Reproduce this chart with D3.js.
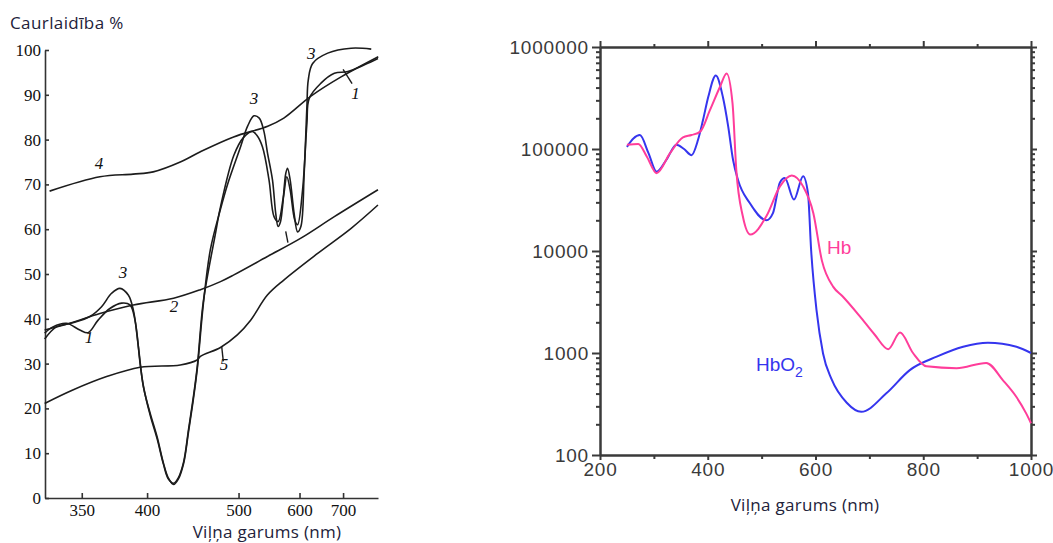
<!DOCTYPE html>
<html>
<head>
<meta charset="utf-8">
<script src="https://cdn.jsdelivr.net/npm/d3@7"></script>
<style>
  body { margin: 0; background: #fff; }
  svg { display: block; }
</style>
</head>
<body>
<svg id="chart" width="1053" height="543"></svg>
<script>
// ---- left panel: transmission (%) vs wavelength (nm), [nm, %]
const curve1 = [[326.8,36.8],[331.7,38.2],[340,39.0],[348.7,37.5],[354.3,36.9],[361.3,39.7],[369.9,42.3],[378.9,43.5],[385.6,43.1],[389.7,39.7],
  [394,30],[396.8,25],[402.7,18.5],[409,13.2],[414.9,7.5],[419.4,4.3],[424.6,3.3],[429.3,4.5],[434.7,8],[440,15.5],[445,22.5],[449.4,29.5],[456.2,44],
  [470.3,59],[476.5,65],[493.7,76.5],[507,80.5],[519.6,81.8],[526,81],[534.9,78.4],[545.4,71],[553.7,62.8],[560.6,61.7],[570,67.3],[576,71.7],
  [582.1,68.8],[590.9,62],[596.2,61],[606.1,68.8],[614.9,83.6],[619.7,89.2],[645.4,92.6],[677.4,94.8],[713,95.2],[762.5,96.7],[807.9,98.1]];
const curve2 = [[326.8,37.5],[342.1,39.0],[362.6,41.2],[388.3,43.1],[424.6,44.6],[452.8,46.5],[476.5,48.3],[493.7,49.8],[542.8,53.9],[602.7,58.0],[677.4,62.8],[807.9,68.8]];
const curve3 = [[326.8,35.5],[333.8,38.2],[344.1,39.1],[355.5,40.5],[363.8,42.7],[371.2,45.7],[377.6,46.8],[384.2,45.3],[388.3,42.0],[392.5,33.8],
  [396.8,24.8],[402.7,18.9],[409,13.6],[414.9,7.7],[419.4,4.5],[424.6,3.0],[429.3,4.2],[434.7,7.7],[440,15],[445,22],[449.4,29],[456.2,43.5],
  [464.3,55.5],[476.5,64.5],[485.4,70],[502.8,78.4],[512.7,83],[522,85.3],[530,84.8],[537,82],[543,77],[551.1,71],[556.6,63.5],[560.6,60.6],[564.4,61.5],
  [568.3,65],[574.2,72.5],[577.3,73.6],[582.1,71],[589.6,63.5],[596.2,59.4],[602.7,60.6],[609.3,72.5],[614.9,87.3],[617.7,93.3],[627,97],
  [661.2,99.3],[722.3,100.4],[784.6,100.2]];
const curve4 = [[329.7,68.5],[362.6,71.7],[388.1,72.3],[405.4,72.8],[431.3,75.0],[452.8,77.3],[493.3,80.6],[543.3,83.0],[570.6,84.8],[623.3,89.7],[694.7,94.0],[809,98.5]];
const curve5 = [[326.8,21.1],[344.1,24.1],[367.5,27.1],[394,29.2],[431.3,29.7],[449.1,30.8],[452.8,31.6],[476.5,33.6],[498.3,36.4],[517.1,39.7],[542.8,45.3],[571.1,48.7],[638,54.6],[722.3,60.2],[807.9,65.4]];
const leftXTicks = [350, 400, 500, 600, 700];
const leftYTicks = [0, 10, 20, 30, 40, 50, 60, 70, 80, 90, 100];
// curve number labels: [text, nm, %]
const curveLabels = [["4", 362, 73.5], ["3", 380, 49], ["1", 355, 34.5], ["2", 425, 41.5], ["5", 481, 28.5], ["3", 522, 88], ["3", 624, 98], ["1", 735, 89]];

// ---- right panel: absorption vs wavelength (nm), [nm, value]
const hb = [[250,110000],[271,112000],[287,84000],[305,58000],[330,91000],[354,130000],[370,137000],[386,148000],[404,240000],[423,410000],[435,550000],
  [446,280000],[453,62000],[465,22000],[479,14500],[509,22000],[534,43000],[556,55000],[577,43000],[596,23500],[612,8000],[633,4450],[651,3560],
  [682,2300],[710,1510],[735,1090],[757,1585],[781,1000],[806,740],[862,710],[917,800],[948,540],[973,370],[991,256],[1000,205]];
const hbo2 = [[250,105000],[262,127000],[274,137000],[290,91000],[305,60000],[323,78000],[342,110000],[356,100000],[370,87000],[382,123000],[391,190000],
  [401,325000],[415,525000],[428,325000],[438,166000],[447,78000],[456,50000],[478,29500],[509,20000],[521,23500],[534,47000],[543,52000],[560,32000],
  [577,54000],[586,37000],[592,10000],[602,2600],[614,990],[630,550],[658,325],[685,265],[732,405],[775,680],[825,920],[874,1150],[920,1260],[973,1150],[1000,1000]];
const rightXTicks = [200, 400, 600, 800, 1000];
const rightXMinor = [300, 500, 700, 900];
const rightYTicks = [100, 1000, 10000, 100000, 1000000];

const svg = d3.select("#chart");

// ============ left panel ============
const xL = d3.scaleLinear().domain([1000 / 327, 1000 / 808]).range([45, 378]); // 1/wavelength scale
const xWl = wl => xL(1000 / wl);
const yL = d3.scaleLinear().domain([0, 100]).range([498, 50]);

const left = svg.append("g");
left.append("g")
  .attr("transform", "translate(0,498)")
  .call(d3.axisBottom(xL).tickValues(leftXTicks.map(w => 1000 / w)).tickFormat(d => Math.round(1000 / d)).tickSize(-5).tickSizeOuter(0).tickPadding(6))
  .call(g => g.selectAll("text").attr("font-family", "Liberation Serif, serif").attr("font-size", 17).attr("fill", "#111"));
left.append("g")
  .attr("transform", "translate(45,0)")
  .call(d3.axisLeft(yL).tickValues(leftYTicks).tickSize(-4).tickSizeOuter(0).tickPadding(4))
  .call(g => g.selectAll("text").attr("font-family", "Liberation Serif, serif").attr("font-size", 17).attr("fill", "#111"));
left.selectAll(".domain, .tick line").attr("stroke", "#333").attr("stroke-width", 1.6);

const lineL = d3.line().x(d => xWl(d[0])).y(d => yL(d[1])).curve(d3.curveCatmullRom.alpha(0.5));
[curve1, curve2, curve3, curve4, curve5].forEach(c => {
  left.append("path").attr("d", lineL(c)).attr("fill", "none").attr("stroke", "#1c1c1c").attr("stroke-width", 1.6);
});

left.selectAll(".clabel").data(curveLabels).enter().append("text")
  .attr("x", d => xWl(d[1])).attr("y", d => yL(d[2]))
  .attr("text-anchor", "middle")
  .attr("font-family", "Liberation Serif, serif").attr("font-style", "italic").attr("font-size", 17).attr("fill", "#111")
  .text(d => d[0]);

// small leader strokes next to labels
const leaders = [[[700, 95.7], [725, 92.5]], [[478, 33.8], [480, 30.5]], [[578, 57], [574, 59.5]]];
leaders.forEach(l => {
  left.append("path").attr("d", d3.line().x(d => xWl(d[0])).y(d => yL(d[1]))(l))
    .attr("stroke", "#1c1c1c").attr("stroke-width", 1.4).attr("fill", "none");
});

left.append("text").attr("x", 10).attr("y", 29)
  .attr("font-family", "Open Sans, sans-serif").attr("font-size", 17).attr("letter-spacing", 0.4).attr("fill", "#22223a")
  .text("Caurlaidība %");
left.append("text").attr("x", 267).attr("y", 538).attr("text-anchor", "middle")
  .attr("font-family", "Open Sans, sans-serif").attr("font-size", 17).attr("letter-spacing", 0.3).attr("fill", "#22223a")
  .text("Viļņa garums (nm)");

// ============ right panel ============
const xR = d3.scaleLinear().domain([200, 1000]).range([600, 1031]);
const yR = d3.scaleLog().domain([100, 1e6]).range([455, 47]);
const minorY = [];
for (let e = 2; e < 6; e++) for (let m = 2; m <= 9; m++) minorY.push(m * Math.pow(10, e));

const right = svg.append("g");
const noLab = () => "";
right.append("g").attr("transform", "translate(0,455)")
  .call(d3.axisBottom(xR).tickValues(rightXTicks).tickFormat(d3.format("d")).tickSize(5).tickSizeOuter(0).tickPadding(3));
right.append("g").attr("transform", "translate(0,455)")
  .call(d3.axisBottom(xR).tickValues(rightXMinor).tickSize(4).tickSizeOuter(0).tickFormat(noLab));
right.append("g").attr("transform", "translate(0,47)")
  .call(d3.axisTop(xR).tickValues(rightXTicks).tickSize(6).tickSizeOuter(0).tickFormat(noLab));
right.append("g").attr("transform", "translate(0,47)")
  .call(d3.axisTop(xR).tickValues(rightXMinor).tickSize(3).tickSizeOuter(0).tickFormat(noLab));
right.append("g").attr("transform", "translate(600,0)")
  .call(d3.axisLeft(yR).tickValues(rightYTicks).tickFormat(d3.format("d")).tickSize(8).tickSizeOuter(0).tickPadding(3));
right.append("g").attr("transform", "translate(600,0)")
  .call(d3.axisLeft(yR).tickValues(minorY).tickSize(4).tickSizeOuter(0).tickFormat(noLab));
right.append("g").attr("transform", "translate(1031,0)")
  .call(d3.axisRight(yR).tickValues(rightYTicks).tickSize(6).tickSizeOuter(0).tickFormat(noLab));
right.append("g").attr("transform", "translate(1031,0)")
  .call(d3.axisRight(yR).tickValues(minorY).tickSize(4).tickSizeOuter(0).tickFormat(noLab));
right.selectAll(".domain, .tick line").attr("stroke", "#3a3a3a").attr("stroke-width", 2);
right.selectAll(".tick text").attr("font-family", "Liberation Sans, Arial, sans-serif").attr("font-size", 19)
  .attr("letter-spacing", 0.8).attr("fill", "#3a3a3a");

const lineR = d3.line().x(d => xR(d[0])).y(d => yR(d[1])).curve(d3.curveMonotoneX);
right.append("path").attr("d", lineR(hbo2)).attr("fill", "none").attr("stroke", "#3535ee").attr("stroke-width", 2);
right.append("path").attr("d", lineR(hb)).attr("fill", "none").attr("stroke", "#ff3d9a").attr("stroke-width", 2);

right.append("text").attr("x", 827).attr("y", 254)
  .attr("font-family", "Liberation Sans, Arial, sans-serif").attr("font-size", 19).attr("fill", "#ff3d9a").text("Hb");
const ho = right.append("text").attr("x", 756).attr("y", 371)
  .attr("font-family", "Liberation Sans, Arial, sans-serif").attr("font-size", 19).attr("fill", "#3535ee");
ho.append("tspan").text("HbO");
ho.append("tspan").attr("dy", 6).attr("font-size", 14).text("2");

right.append("text").attr("x", 805).attr("y", 511).attr("text-anchor", "middle")
  .attr("font-family", "Open Sans, sans-serif").attr("font-size", 17).attr("letter-spacing", 0.3).attr("fill", "#22223a")
  .text("Viļņa garums (nm)");
</script>
</body>
</html>
